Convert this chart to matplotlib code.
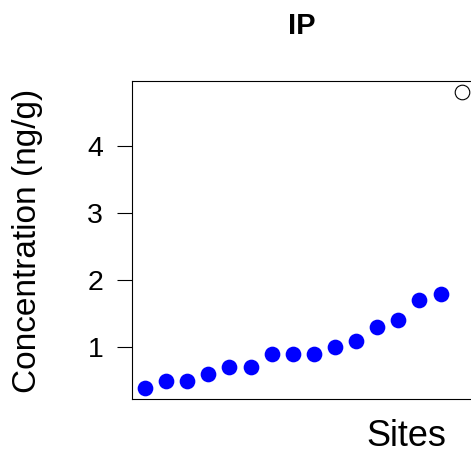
import matplotlib
matplotlib.use("Agg")
import matplotlib.pyplot as plt

plt.rcParams['font.family'] = ['Liberation Sans', 'DejaVu Sans']

title = "IP"
xlabel = "Sites"
ylabel = "Concentration (ng/g)"
sites = list(range(1, 17))
values = [0.4, 0.5, 0.5, 0.6, 0.7, 0.7, 0.9, 0.9, 0.9, 1.0, 1.1, 1.3, 1.4, 1.7, 1.8, 4.8]
outlier = [False] * 15 + [True]
yticks = [1, 2, 3, 4]

W, H = 471, 458
fig = plt.figure(figsize=(W / 100, H / 100), dpi=100)
left, right, top, bottom = 132.3, 474.3, 80.7, 399.3
ax = fig.add_axes([left / W, 1 - bottom / H, (right - left) / W, (bottom - top) / H])

xs_n = [s for s, o in zip(sites, outlier) if not o]
ys_n = [v for v, o in zip(values, outlier) if not o]
xs_o = [s for s, o in zip(sites, outlier) if o]
ys_o = [v for v, o in zip(values, outlier) if o]

ax.plot(xs_n, ys_n, 'o', color='#0000ff', markersize=11.3, markeredgewidth=0, clip_on=False)
ax.plot(xs_o, ys_o, 'o', markerfacecolor='none', markeredgecolor='black',
        markersize=10.5, markeredgewidth=0.8, clip_on=False)

xmin, xmax = min(sites), max(sites)
ymin, ymax = min(values), max(values)
dx = (xmax - xmin) * 0.04
dy = (ymax - ymin) * 0.04
ax.set_xlim(xmin - dx, xmax + dx)
ax.set_ylim(ymin - dy, ymax + dy)

ax.set_xticks([])
ax.set_yticks(yticks)
ax.set_yticklabels([str(t) for t in yticks])
ax.tick_params(axis='y', length=10.5, width=0.8, pad=10.5, labelsize=20.5, colors='black')
for sp in ax.spines.values():
    sp.set_linewidth(0.8)
    sp.set_color('black')

fig.text(301.7 / W, 1 - 34.3 / H, title, ha='center', va='baseline',
         fontsize=21, fontweight='bold')
fig.text(406.7 / W, 1 - 446.5 / H, xlabel, ha='center', va='baseline', fontsize=26)
fig.text(28 / W, 1 - 241.3 / H, ylabel, ha='center', va='center', rotation=90, fontsize=24)

fig.savefig('out.png', dpi=100)
